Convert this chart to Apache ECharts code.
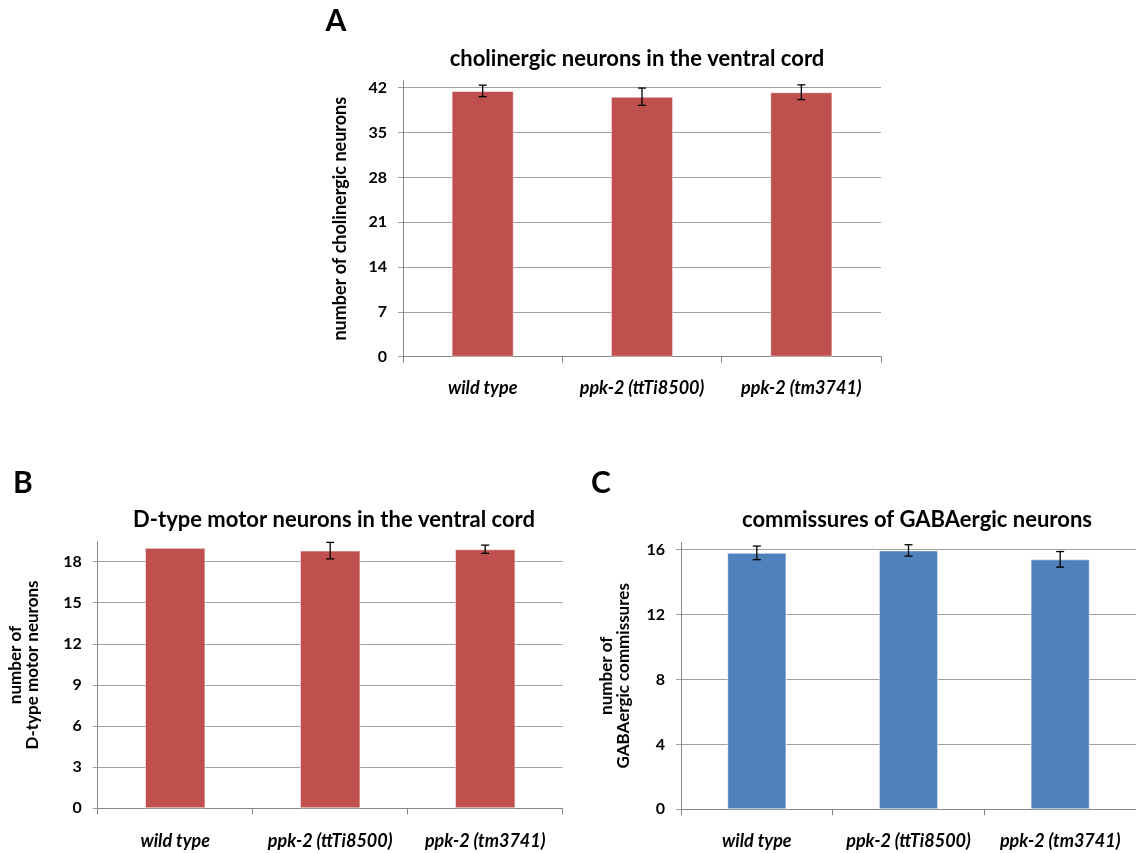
<!DOCTYPE html>
<html>
<head>
<meta charset="utf-8">
<script src="https://cdn.jsdelivr.net/npm/echarts@6/dist/echarts.min.js"></script>
<style>
  html, body { margin: 0; padding: 0; background: #fff; }
  #main { width: 1136px; height: 853px; }
</style>
</head>
<body>
<div id="main"></div>
<script>
var strains = ['wild type', 'ppk-2 (ttTi8500)', 'ppk-2 (tm3741)'];

// A: cholinergic neurons
var cholMean = [41.5, 40.6, 41.3];
var cholErr = [0.9, 1.35, 1.15];
var cholTicks = [0, 7, 14, 21, 28, 35, 42];

// B: D-type motor neurons
var dtypeMean = [19.0, 18.8, 18.9];
var dtypeErr = [0, 0.6, 0.3];
var dtypeTicks = [0, 3, 6, 9, 12, 15, 18];

// C: GABAergic commissures
var commMean = [15.8, 15.95, 15.4];
var commErr = [0.42, 0.35, 0.48];
var commTicks = [0, 4, 8, 12, 16];

var FONT = 'Lato';
var RED = '#C0504D';
var BLUE = '#4F81BD';

var chart = echarts.init(document.getElementById('main'));

function errorBars(params, api) {
    var x = api.value(0), m = api.value(1), e = api.value(2);
    if (!e) return;
    var hi = api.coord([x, m + e]);
    var lo = api.coord([x, m - e]);
    var st = { stroke: '#000', lineWidth: 1.3 };
    return {
        type: 'group',
        children: [
            { type: 'line', shape: { x1: hi[0], y1: hi[1], x2: lo[0], y2: lo[1] }, style: st },
            { type: 'line', shape: { x1: hi[0] - 4, y1: hi[1], x2: hi[0] + 4, y2: hi[1] }, style: st },
            { type: 'line', shape: { x1: lo[0] - 4, y1: lo[1], x2: lo[0] + 4, y2: lo[1] }, style: st }
        ]
    };
}

function xAxisFor(i, margin) {
    return {
        gridIndex: i,
        type: 'category',
        data: strains,
        axisLine: { lineStyle: { color: '#868686' } },
        axisTick: { show: true, length: 6, lineStyle: { color: '#868686' } },
        axisLabel: {
            margin: margin,
            color: '#000',
            fontFamily: FONT,
            fontSize: 18,
            fontWeight: 'bold',
            fontStyle: 'italic',
            interval: 0
        }
    };
}

function yAxisFor(i, max, ticks, name, nameSize, gap, pad) {
    return {
        gridIndex: i,
        type: 'value',
        min: 0,
        max: max,
        axisLine: { show: true, lineStyle: { color: '#868686' } },
        axisTick: { show: true, length: 5, customValues: ticks, lineStyle: { color: '#a0a0a0' } },
        axisLabel: {
            customValues: ticks,
            margin: 16,
            color: '#000',
            fontFamily: FONT,
            fontSize: 16,
            fontWeight: 'bold'
        },
        splitLine: { lineStyle: { color: '#a0a0a0' } },
        name: name,
        nameLocation: 'middle',
        nameGap: gap,
        nameTextStyle: {
            color: '#000',
            fontFamily: FONT,
            fontSize: nameSize,
            fontWeight: 'bold',
            lineHeight: 17,
            padding: pad || 0
        }
    };
}

function title(text, x, y, size) {
    return {
        text: text,
        left: x,
        top: y,
        textAlign: 'center',
        padding: 0,
        textStyle: { fontFamily: FONT, fontSize: size, fontWeight: 'bold', color: '#000' }
    };
}

function barSeries(i, vals, color) {
    return {
        type: 'bar',
        xAxisIndex: i,
        yAxisIndex: i,
        data: vals,
        barWidth: '39%',
        itemStyle: { color: color, borderColor: 'rgba(255,255,255,0.5)', borderWidth: 1 }
    };
}

function errSeries(i, mean, err) {
    return {
        type: 'custom',
        xAxisIndex: i,
        yAxisIndex: i,
        renderItem: errorBars,
        data: mean.map(function (m, k) { return [k, m, err[k]]; }),
        z: 10
    };
}

var option = {
    animation: false,
    backgroundColor: '#fff',
    title: [
        title('A', 336, 6, 30),
        title('B', 23, 468, 30),
        title('C', 601, 468, 30),
        title('cholinergic neurons in the ventral cord', 637, 48, 22),
        title('D-type motor neurons in the ventral cord', 334, 509, 22),
        title('commissures of GABAergic neurons', 917, 509, 22)
    ],
    grid: [
        { left: 403, right: 255, top: 80.7, bottom: 496.3 },
        { left: 97.7, right: 573.3, top: 541.7, bottom: 44.7 },
        { left: 681, right: -11, top: 542.3, bottom: 43.7 }
    ],
    xAxis: [xAxisFor(0, 22), xAxisFor(1, 24), xAxisFor(2, 23)],
    yAxis: [
        yAxisFor(0, 43.1, cholTicks, 'number of cholinergic neurons', 18, 54),
        yAxisFor(1, 19.45, dtypeTicks, 'number of\nD-type motor neurons', 17, 57, [0, 0, 0, 20]),
        yAxisFor(2, 16.45, commTicks, 'number of\nGABAergic commissures', 17, 49)
    ],
    series: [
        barSeries(0, cholMean, RED),
        errSeries(0, cholMean, cholErr),
        barSeries(1, dtypeMean, RED),
        errSeries(1, dtypeMean, dtypeErr),
        barSeries(2, commMean, BLUE),
        errSeries(2, commMean, commErr)
    ]
};

chart.setOption(option);
</script>
</body>
</html>
